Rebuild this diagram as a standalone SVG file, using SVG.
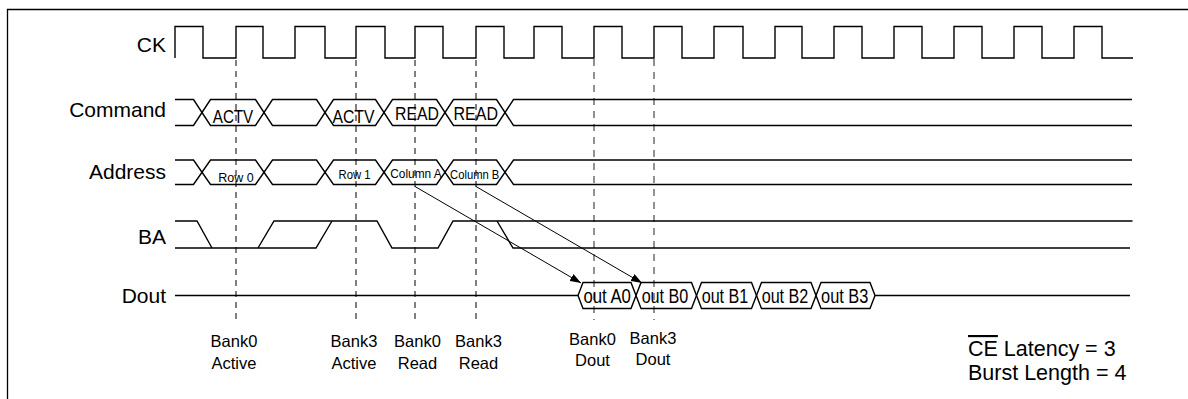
<svg xmlns="http://www.w3.org/2000/svg" width="1188" height="399" viewBox="0 0 1188 399">
<style>
.w{fill:none;stroke:#000;stroke-width:1.4;stroke-linejoin:miter}
.frame{fill:none;stroke:#000;stroke-width:1.3}
.dk{fill:none;stroke:#000;stroke-width:1;stroke-dasharray:6 5}
.dg{fill:none;stroke:#777;stroke-width:1.6;stroke-dasharray:7 6}
.arr{fill:none;stroke:#000;stroke-width:1}
text{font-family:"Liberation Sans",Arial,sans-serif;fill:#000}
.lab{font-size:21px;text-anchor:end}
.bl{font-size:19px;text-anchor:middle}
.al{font-size:13px;text-anchor:middle}
.dl{font-size:20px;text-anchor:middle}
.bot{font-size:16.5px;text-anchor:middle}
.note{font-size:21.5px}
</style>
<defs>
<marker id="ah" markerUnits="userSpaceOnUse" markerWidth="11" markerHeight="8" refX="11" refY="4" orient="auto">
<path d="M0,0 L11,4 L0,8 z" fill="#000"/>
</marker>
</defs>
<path class="frame" d="M7.5,399 V9.5 H1188"/>
<g id="guides">
<line class="dk" x1="236" y1="60" x2="236" y2="321"/>
<line class="dk" x1="356" y1="60" x2="356" y2="321"/>
<line class="dk" x1="415" y1="60" x2="415" y2="321"/>
<line class="dk" x1="476" y1="60" x2="476" y2="321"/>
<line class="dg" x1="594" y1="59" x2="594" y2="320"/>
<line class="dg" x1="654" y1="59" x2="654" y2="320"/>
</g>
<g id="ck">
<text class="lab" x="166" y="51.5">CK</text>
<path class="w" d="M175,58 V26.5 H203 V58 H236 V26.5 H263 V58 H295 V26.5 H325 V58 H356 V26.5 H385 V58 H415 V26.5 H443 V58 H476 V26.5 H504 V58 H534 V26.5 H562 V58 H594 V26.5 H622 V58 H654 V26.5 H682 V58 H714 V26.5 H743 V58 H775 V26.5 H802 V58 H834 V26.5 H862 V58 H894 V26.5 H922 V58 H954 V26.5 H982 V58 H1014 V26.5 H1042 V58 H1074 V26.5 H1102 V58 H1133"/>
</g>
<g id="command">
<text class="lab" x="166" y="117">Command</text>
<path class="w" d="M175,99.5 H193.5 L210.5,125.5 H255.5 L272.5,99.5 H316.5 L333.5,125.5 H375.5 L392.5,99.5 H436.5 L453.5,125.5 H496.5 L513.5,99.5 H1132"/>
<path class="w" d="M175,125.5 H193.5 L210.5,99.5 H255.5 L272.5,125.5 H316.5 L333.5,99.5 H375.5 L392.5,125.5 H436.5 L453.5,99.5 H496.5 L513.5,125.5 H1132"/>
<text class="bl" x="233" y="123" textLength="40.5" lengthAdjust="spacingAndGlyphs">ACTV</text>
<text class="bl" x="353.5" y="123" textLength="42" lengthAdjust="spacingAndGlyphs">ACTV</text>
<text class="bl" x="417" y="119.5" textLength="44" lengthAdjust="spacingAndGlyphs">READ</text>
<text class="bl" x="475.8" y="119.5" textLength="44.5" lengthAdjust="spacingAndGlyphs">READ</text>
</g>
<g id="address">
<text class="lab" x="166" y="178.5">Address</text>
<path class="w" d="M175,160 H193.5 L210.5,184.5 H255.5 L272.5,160 H316.5 L333.5,184.5 H375.5 L392.5,160 H436.5 L453.5,184.5 H496.5 L513.5,160 H1132"/>
<path class="w" d="M175,184.5 H193.5 L210.5,160 H255.5 L272.5,184.5 H316.5 L333.5,160 H375.5 L392.5,184.5 H436.5 L453.5,160 H496.5 L513.5,184.5 H1132"/>
<text class="al" x="236" y="181.5" textLength="35.5" lengthAdjust="spacingAndGlyphs">Row 0</text>
<text class="al" x="354.5" y="178.5" textLength="32" lengthAdjust="spacingAndGlyphs">Row 1</text>
<text class="al" x="416" y="177.5" textLength="51.5" lengthAdjust="spacingAndGlyphs">Column A</text>
<text class="al" x="474.7" y="178.5" textLength="49.3" lengthAdjust="spacingAndGlyphs">Column B</text>
</g>
<g id="ba">
<text class="lab" x="166" y="243.5">BA</text>
<path class="w" d="M175,221 H197 L212,248"/>
<path class="w" d="M175,248 H316 L332,221"/>
<path class="w" d="M258,248 L274,221 H377 L392,248 H438 L453,221 H1132.5"/>
<path class="w" d="M497,221 L513,248 H1130"/>
</g>
<g id="dout">
<text class="lab" x="166" y="303">Dout</text>
<path class="w" d="M578,295.5 L583,282.5 H631 L641,308.5 H691.5 L701.5,282.5 H751.5 L761.5,308.5 H811 L821,282.5 H870 L875,295.5 H1130"/>
<path class="w" d="M175,295.5 H578 L583,308.5 H631 L641,282.5 H691.5 L701.5,308.5 H751.5 L761.5,282.5 H811 L821,308.5 H870 L875,295.5"/>
<text class="dl" x="607.2" y="303.3" textLength="47.5" lengthAdjust="spacingAndGlyphs">out A0</text>
<text class="dl" x="665" y="303.3" textLength="46.7" lengthAdjust="spacingAndGlyphs">out B0</text>
<text class="dl" x="725" y="303.3" textLength="46.7" lengthAdjust="spacingAndGlyphs">out B1</text>
<text class="dl" x="785" y="303.3" textLength="46.7" lengthAdjust="spacingAndGlyphs">out B2</text>
<text class="dl" x="844.7" y="303.3" textLength="47.3" lengthAdjust="spacingAndGlyphs">out B3</text>
</g>
<g id="connectors">
<line class="arr" x1="415" y1="186.5" x2="581" y2="283" marker-end="url(#ah)"/>
<line class="arr" x1="476" y1="186.5" x2="642" y2="283" marker-end="url(#ah)"/>
</g>
<g id="labels">
<text class="bot" x="234" y="346.5">Bank0</text>
<text class="bot" x="234" y="368.5">Active</text>
<text class="bot" x="354" y="346.5">Bank3</text>
<text class="bot" x="354" y="368.5">Active</text>
<text class="bot" x="417.5" y="346.5">Bank0</text>
<text class="bot" x="417.5" y="368.5">Read</text>
<text class="bot" x="478.5" y="346.5">Bank3</text>
<text class="bot" x="478.5" y="368.5">Read</text>
<text class="bot" x="592.5" y="345">Bank0</text>
<text class="bot" x="592.5" y="366">Dout</text>
<text class="bot" x="653" y="343.5">Bank3</text>
<text class="bot" x="653" y="364.5">Dout</text>
</g>
<g id="notes">
<text class="note" x="968" y="356"><tspan style="text-decoration:overline">CE</tspan> Latency = 3</text>
<text class="note" x="968" y="380">Burst Length = 4</text>
</g>
</svg>
